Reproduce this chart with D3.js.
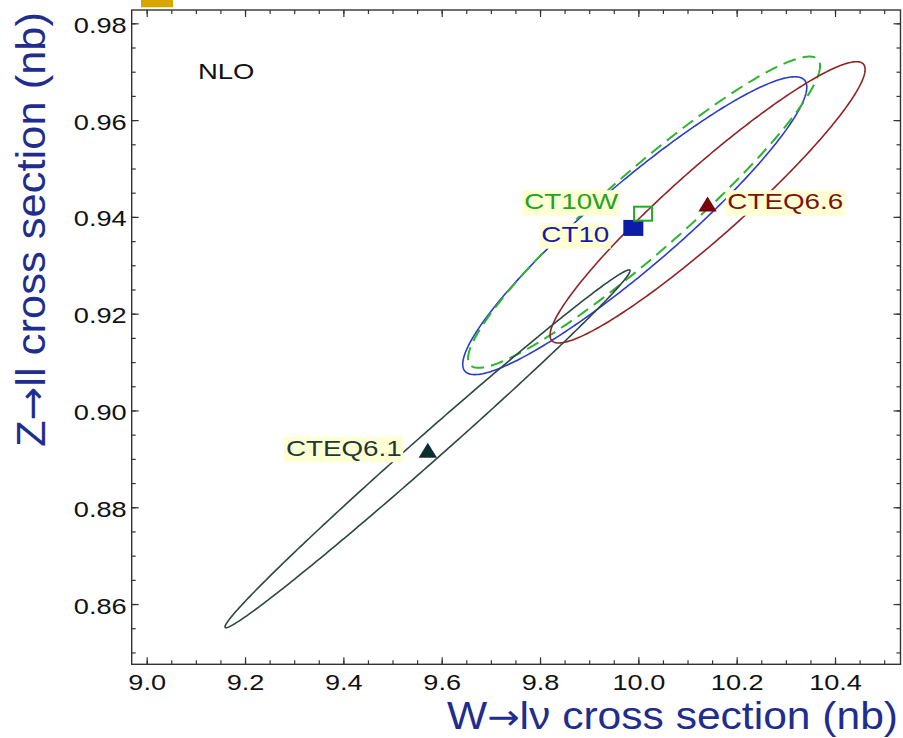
<!DOCTYPE html>
<html>
<head>
<meta charset="utf-8">
<script src="https://cdn.jsdelivr.net/npm/d3@7"></script>
<style>
  body { margin: 0; background: #fff; }
  text { font-family: "Liberation Sans", Arial, sans-serif; }
</style>
</head>
<body>
<svg id="chart"></svg>
<script>
// PDF sets: central values, 1-sigma widths and W/Z correlation of the error ellipse
const names   = ["CT10", "CT10W", "CTEQ6.6", "CTEQ6.1"];
const centerW = [9.9927, 10.0116, 10.1408, 9.5712];
const centerZ = [0.93818, 0.94097, 0.94301, 0.89208];
const sigmaW  = [0.3499, 0.358, 0.3204, 0.4119];
const sigmaZ  = [0.03077, 0.03216, 0.02906, 0.03697];
const corr    = [0.93, 0.94, 0.945, 0.995];
// best-fit markers
const pointW  = [9.9898, 10.0096, 10.1408, 9.5718];
const pointZ  = [0.93772, 0.94066, 0.94264, 0.89178];

const xTicks = [9.0, 9.2, 9.4, 9.6, 9.8, 10.0, 10.2, 10.4];
const yTicks = [0.86, 0.88, 0.90, 0.92, 0.94, 0.96, 0.98];
const xMinor = d3.range(0, 31).map(i => 9.0 + i * 0.05);
const yMinor = d3.range(0, 27).map(i => 0.85 + i * 0.005);

// styling per set
const style = {
  "CT10":    { line: "#2a3cc8", text: "#1818b0", dash: null,   marker: "square", fill: "#0b1ca6", width: 1.6 },
  "CT10W":   { line: "#2db52d", text: "#22a422", dash: "13,7", marker: "open",   fill: "#22aa22", width: 2 },
  "CTEQ6.6": { line: "#8e2424", text: "#7a1212", dash: null,   marker: "tri",    fill: "#780404", width: 1.6 },
  "CTEQ6.1": { line: "#2c4742", text: "#1f3838", dash: null,   marker: "tri",    fill: "#0e2e2e", width: 1.6 }
};
// label placement relative to the marker (px)
const labelPos = {
  "CT10":    { anchor: "end",   dx: -24,  dy: 14.3 },
  "CT10W":   { anchor: "end",   dx: -24.7, dy: -4.5 },
  "CTEQ6.6": { anchor: "start", dx: 19.8, dy: 5.1 },
  "CTEQ6.1": { anchor: "end",   dx: -26.1, dy: 5.5 }
};

const width = 903, height = 738;
const STRETCH = 1.235;

const svg = d3.select("#chart").attr("width", width).attr("height", height);

const x = d3.scaleLinear().domain([8.9695, 10.5332]).range([131.7, 900.5]);
const y = d3.scaleLinear().domain([0.84755, 0.98275]).range([664.3, 10]);

function stretch(sel, k) {
  sel.each(function () {
    const w = this.getComputedTextLength();
    d3.select(this).attr("textLength", w * k).attr("lengthAdjust", "spacingAndGlyphs");
  });
}

// stray yellow mark at the top
svg.append("rect").attr("x", 141).attr("y", 0).attr("width", 32).attr("height", 7.3).attr("fill", "#d8a600");

// ellipses
const line = d3.line().x(d => x(d[0])).y(d => y(d[1]));
names.forEach((n, i) => {
  const phi = Math.acos(corr[i]);
  const pts = d3.range(0, 361).map(k => {
    const t = k * Math.PI / 180;
    return [centerW[i] + sigmaW[i] * Math.cos(t), centerZ[i] + sigmaZ[i] * Math.cos(t + phi)];
  });
  svg.append("path")
    .attr("d", line(pts) + "Z")
    .attr("fill", "none")
    .attr("stroke", style[n].line)
    .attr("stroke-width", style[n].width)
    .attr("stroke-dasharray", style[n].dash);
});

// axes: major + minor ticks, mirrored, pointing inward
svg.append("g").attr("transform", `translate(0,${y.range()[0]})`)
  .call(d3.axisBottom(x).tickValues(xMinor).tickSize(-4).tickFormat(""));
const gxMaj = svg.append("g").attr("transform", `translate(0,${y.range()[0]})`)
  .call(d3.axisBottom(x).tickValues(xTicks).tickSize(-7).tickFormat(d3.format(".1f")));
svg.append("g").attr("transform", `translate(0,${y.range()[1]})`)
  .call(d3.axisTop(x).tickValues(xMinor).tickSize(-4).tickFormat(""));
svg.append("g").attr("transform", `translate(0,${y.range()[1]})`)
  .call(d3.axisTop(x).tickValues(xTicks).tickSize(-7).tickFormat(""));

svg.append("g").attr("transform", `translate(${x.range()[0]},0)`)
  .call(d3.axisLeft(y).tickValues(yMinor).tickSize(-4).tickFormat(""));
const gyMaj = svg.append("g").attr("transform", `translate(${x.range()[0]},0)`)
  .call(d3.axisLeft(y).tickValues(yTicks).tickSize(-7).tickFormat(d3.format(".2f")));
svg.append("g").attr("transform", `translate(${x.range()[1]},0)`)
  .call(d3.axisRight(y).tickValues(yMinor).tickSize(-4).tickFormat(""));
svg.append("g").attr("transform", `translate(${x.range()[1]},0)`)
  .call(d3.axisRight(y).tickValues(yTicks).tickSize(-7).tickFormat(""));

svg.selectAll(".domain").remove();
svg.selectAll(".tick line").attr("stroke", "#333").attr("stroke-width", 1.2);

gxMaj.selectAll("text")
  .attr("y", 25.3).attr("dy", null)
  .attr("font-size", 21.5).attr("fill", "#111")
  .attr("font-family", "Liberation Sans, Arial, sans-serif")
  .call(stretch, 1.26);
gyMaj.selectAll("text")
  .attr("x", -5).attr("dy", 9)
  .attr("font-size", 22).attr("fill", "#111")
  .attr("font-family", "Liberation Sans, Arial, sans-serif")
  .call(stretch, STRETCH);

// frame
svg.append("rect")
  .attr("x", x.range()[0]).attr("y", y.range()[1])
  .attr("width", x.range()[1] - x.range()[0])
  .attr("height", y.range()[0] - y.range()[1])
  .attr("fill", "none").attr("stroke", "#333").attr("stroke-width", 1.4);

// markers and labels
names.forEach((n, i) => {
  const px = x(pointW[i]), py = y(pointZ[i]);
  const s = style[n];
  if (s.marker === "square") {
    svg.append("rect").attr("x", px - 10).attr("y", py - 8).attr("width", 20).attr("height", 16).attr("fill", s.fill);
  } else if (s.marker === "open") {
    svg.append("rect").attr("x", px - 9).attr("y", py - 7).attr("width", 18).attr("height", 14)
      .attr("fill", "none").attr("stroke", s.fill).attr("stroke-width", 2);
  } else {
    svg.append("path")
      .attr("d", `M${px - 9.2},${py + 7.5}L${px + 9.2},${py + 7.5}L${px},${py - 7.5}Z`)
      .attr("fill", s.fill);
  }

  const lp = labelPos[n];
  const g = svg.append("g");
  const bg = g.append("rect").attr("fill", "#ffffd4");
  const t = g.append("text")
    .attr("x", px + lp.dx).attr("y", py + lp.dy)
    .attr("text-anchor", lp.anchor)
    .attr("font-size", 22.5)
    .attr("fill", s.text)
    .text(n)
    .call(stretch, STRETCH);
  const L = +t.attr("textLength");
  const tx = px + lp.dx, ty = py + lp.dy;
  const x0 = lp.anchor === "end" ? tx - L - 2 : tx - 1.5;
  bg.attr("x", x0).attr("y", ty - 19).attr("width", L + 3.5).attr("height", 25.5);
});

// NLO tag
svg.append("text").attr("x", 198).attr("y", 79.3)
  .attr("font-size", 22.5).attr("fill", "#111").text("NLO")
  .call(stretch, 1.22);

// axis titles, arrow taken from DejaVu for a long thin glyph
function title(sel, a, arrow, b, arrowSize) {
  sel.append("tspan").text(a);
  sel.append("tspan").attr("font-family", "DejaVu Sans").attr("font-size", arrowSize).text(arrow);
  sel.append("tspan").text(b);
}

svg.append("text")
  .attr("x", 447).attr("y", 729)
  .attr("font-size", 38.5).attr("fill", "#1f2d8e")
  .attr("textLength", 451).attr("lengthAdjust", "spacingAndGlyphs")
  .call(title, "W", "\u2192", "l\u03bd cross section (nb)", 35);

svg.append("text")
  .attr("transform", "translate(45,229.5) rotate(-90)")
  .attr("text-anchor", "middle")
  .attr("font-size", 41).attr("fill", "#1f2d8e")
  .attr("textLength", 435).attr("lengthAdjust", "spacingAndGlyphs")
  .call(title, "Z", "\u2192", "ll cross section (nb)", 38);
</script>
</body>
</html>
